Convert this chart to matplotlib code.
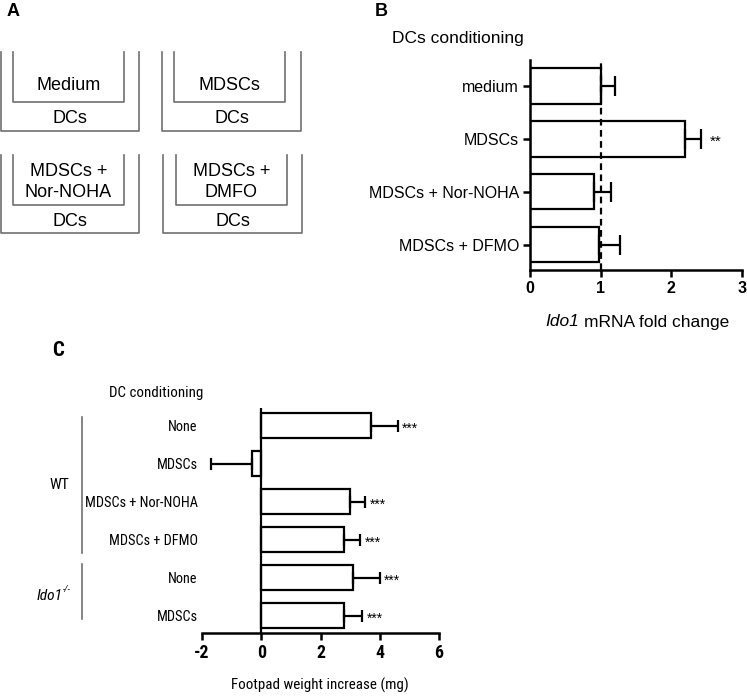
import matplotlib
matplotlib.use("Agg")
import matplotlib.pyplot as plt
from matplotlib import font_manager
from matplotlib.font_manager import FontProperties
import numpy as np

# Painel B: expressao de Ido1 nas DCs.
b_labels = ["medium", "MDSCs", "MDSCs + Nor-NOHA", "MDSCs + DFMO"]
b_values = [1.0, 2.2, 0.9, 0.97]
b_errors = [0.2, 0.22, 0.25, 0.3]
b_stars = ["", "**", "", ""]
b_ticks = [0, 1, 2, 3]

# Painel C: aumento do peso da pata.
c_labels = ["None", "MDSCs", "MDSCs + Nor-NOHA", "MDSCs + DFMO", "None", "MDSCs"]
c_values = [3.7, -0.3, 3.0, 2.8, 3.1, 2.8]
c_errors = [0.9, 1.4, 0.5, 0.55, 0.9, 0.6]
c_stars = ["***", "", "***", "***", "***", "***"]
c_ticks = [-2, 0, 2, 4, 6]

# Painel A: esquema das culturas (texto interno de cada poco).
a_inner = ["Medium", "MDSCs", "MDSCs +\nNor-NOHA", "MDSCs +\nDMFO"]
a_outer = ["DCs", "DCs", "DCs", "DCs"]

plt.rcParams["font.family"] = ["Liberation Sans", "DejaVu Sans"]

# Fonte mais estreita possivel para o painel C (so familias sem serifa conhecidas).
base_fam = ("Liberation Sans", "DejaVu Sans", "Noto Sans", "Open Sans", "Roboto",
            "Lato", "Inter")
familias = {}
for f in font_manager.fontManager.ttflist:
    nome = f.name
    if not nome.startswith(base_fam) or "mono" in nome.lower():
        continue
    if nome not in base_fam and not any(k in nome.lower() for k in ("condensed", "narrow")):
        continue
    familias.setdefault((nome, str(f.stretch)), {})[(f.style, f.weight)] = f.fname

alvo = 7.4  # largura de "MDSCs + Nor-NOHA" em em
melhor, erro, em = None, 1e9, 9.4
for chave, faces in familias.items():
    if ("normal", 400) not in faces:
        continue
    try:
        ft = font_manager.get_font(faces[("normal", 400)])
        ft.set_size(100, 72)
        ft.set_text("MDSCs + Nor-NOHA", 0.0)
        larg = ft.get_width_height()[0] / 64 / 100
    except Exception:
        continue
    if abs(larg - alvo) < erro:
        melhor, erro, em = chave, abs(larg - alvo), larg

faces = familias[melhor]
reg = FontProperties(fname=faces[("normal", 400)])
bold = FontProperties(fname=faces.get(("normal", 700), faces[("normal", 400)]))
ital = FontProperties(fname=faces.get(("italic", 400), faces[("normal", 400)]))
# tamanho (pt) para que o rotulo ocupe ~113 px
nsize = min(13.0, 113 / em * 0.72)

W, H = 747, 697
fig = plt.figure(figsize=(W / 100, H / 100), dpi=100)


def frac(x0, y0, x1, y1):
    # converte pixels (origem no topo) em fracoes da figura
    return [x0 / W, 1 - y1 / H, (x1 - x0) / W, (y1 - y0) / H]


def fp(base, size):
    p = base.copy()
    p.set_size(size)
    return p


# ---------- Painel A ----------
ov = fig.add_axes([0, 0, 1, 1])
ov.set_xlim(0, W)
ov.set_ylim(H, 0)
ov.axis("off")
gray = "#707070"
wells = [  # outer x0, x1, inner x0, x1, top, inner bottom, outer bottom
    (1, 139, 13, 124, 52, 102, 131),
    (162, 301, 174, 285, 52, 102, 131),
    (1, 139, 13, 124, 155, 205, 233),
    (163, 302, 176, 287, 155, 205, 233),
]
for (ox0, ox1, ix0, ix1, top, ib, ob), inner, outer in zip(wells, a_inner, a_outer):
    ov.plot([ox0, ox0, ox1, ox1], [top, ob, ob, top], color=gray, lw=1.2)
    ov.plot([ix0, ix0, ix1, ix1], [top, ib, ib, top], color=gray, lw=1.2)
    ov.text((ix0 + ix1) / 2, (top + ib) / 2 + (9 if "\n" not in inner else 2), inner,
            ha="center", va="center", fontsize=13, linespacing=1.25)
    ov.text((ox0 + ox1) / 2, (ib + ob) / 2 + 2, outer, ha="center", va="center",
            fontsize=13)

ov.text(7, 12, "A", fontsize=13, fontweight="bold", va="center")
ov.text(375, 12, "B", fontsize=13, fontweight="bold", va="center")
ov.text(52, 350, "C", fontproperties=fp(bold, 15), va="center")

# ---------- Painel B ----------
axb = fig.add_axes(frac(530, 60, 742, 270))
yb = np.arange(len(b_labels))
axb.barh(yb, b_values, height=0.67, color="white", edgecolor="black", lw=1.6, zorder=2)
axb.errorbar(b_values, yb, xerr=[np.zeros(len(b_errors)), b_errors], fmt="none",
             ecolor="black", elinewidth=1.6, capsize=7, capthick=1.6, zorder=3)
axb.axvline(1, color="black", ls="--", lw=1.6, dashes=(3, 2), zorder=4)
for y, v, e, s in zip(yb, b_values, b_errors, b_stars):
    if s:
        axb.text(v + e + 0.12, y + 0.05, s, va="center", ha="left", fontsize=11)
axb.set_xlim(0, 3)
axb.set_ylim(3.48, -0.49)
axb.set_yticks(yb)
axb.set_yticklabels(b_labels, fontsize=11.5)
axb.set_xticks(b_ticks)
axb.set_xticklabels([str(t) for t in b_ticks], fontsize=11.5, fontweight="bold")
axb.spines[["top", "right"]].set_visible(False)
for sp in ["left", "bottom"]:
    axb.spines[sp].set_linewidth(1.8)
axb.tick_params(axis="both", width=1.8, length=5, pad=3)
ov.text(545, 322, "Ido1", fontsize=12.5, style="italic", ha="left", va="center")
ov.text(584, 322, "mRNA fold change", fontsize=12.5, ha="left", va="center")
ov.text(392, 39, "DCs conditioning", fontsize=12.5, ha="left", va="center")

# ---------- Painel C ----------
axc = fig.add_axes(frac(202, 408, 439, 633))
yc = np.arange(len(c_labels))
axc.barh(yc, c_values, height=0.66, color="white", edgecolor="black", lw=1.6, zorder=2)
lo = [e if v < 0 else 0 for v, e in zip(c_values, c_errors)]
hi = [0 if v < 0 else e for v, e in zip(c_values, c_errors)]
axc.errorbar(c_values, yc, xerr=[lo, hi], fmt="none", ecolor="black",
             elinewidth=1.6, capsize=4, capthick=1.6, zorder=3)
axc.axvline(0, color="black", lw=1.6, zorder=4)
for y, v, e, s in zip(yc, c_values, c_errors, c_stars):
    if s:
        axc.text(v + e + 0.15, y + 0.08, s, va="center", ha="left", fontsize=10)
axc.set_xlim(-2, 6)
axc.set_ylim(5.45, -0.47)
axc.set_yticks(yc)
axc.set_yticklabels(c_labels, fontproperties=fp(reg, nsize))
axc.set_xticks(c_ticks)
axc.set_xticklabels([str(t) for t in c_ticks], fontproperties=fp(bold, nsize + 2.5))
axc.spines[["top", "right", "left"]].set_visible(False)
axc.spines["bottom"].set_linewidth(1.8)
axc.tick_params(axis="x", width=1.8, length=5, pad=3)
axc.tick_params(axis="y", length=0, pad=3)
ov.text(320, 685, "Footpad weight increase (mg)", fontproperties=fp(reg, nsize + 0.5),
        ha="center", va="center")

ov.text(109, 393, "DC conditioning", fontproperties=fp(reg, nsize + 0.5),
        ha="left", va="center")
ov.plot([82, 82], [417, 553], color=gray, lw=1.2)
ov.plot([82, 82], [564, 619], color=gray, lw=1.2)
ov.text(59, 485, "WT", fontproperties=fp(reg, nsize + 0.8), ha="center", va="center")
ov.text(63, 596, "Ido1", fontproperties=fp(ital, nsize + 0.8), ha="right",
        va="center")
ov.text(63, 589, "-/-", fontproperties=fp(ital, nsize * 0.65), ha="left",
        va="center")

fig.savefig("out.png", dpi=100)
